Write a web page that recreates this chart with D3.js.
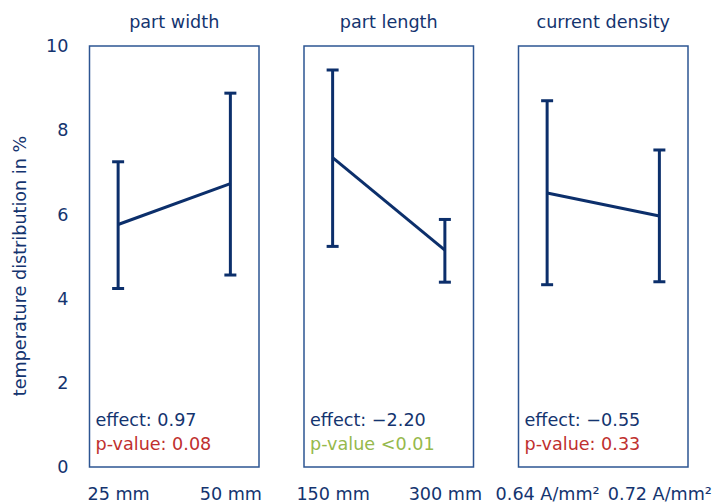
<!DOCTYPE html>
<html>
<head>
<meta charset="utf-8">
<script src="https://cdn.jsdelivr.net/npm/d3@7"></script>
<style>
  html, body { margin: 0; padding: 0; background: #fff; }
  svg { display: block; font-family: "DejaVu Sans", sans-serif; }
</style>
</head>
<body>
<svg id="chart" width="713" height="503"></svg>
<script>
// Factor main effects: mean temperature distribution with error ranges
const factors = ["part width", "part length", "current density"];
const levels = [["25 mm", "50 mm"], ["150 mm", "300 mm"], ["0.64 A/mm²", "0.72 A/mm²"]];
const means = [[5.76, 6.73], [7.35, 5.15], [6.51, 5.96]];
const upper = [[7.25, 8.88], [9.43, 5.88], [8.70, 7.53]];
const lower = [[4.24, 4.56], [5.24, 4.39], [4.33, 4.40]];
const effects = ["0.97", "\u22122.20", "\u22120.55"];
const pLabels = ["p-value: 0.08", "p-value <0.01", "p-value: 0.33"];
const significant = [false, true, false];
const yTicks = [0, 2, 4, 6, 8, 10];

const navy = "#0c2f6b";
const frameColor = "#2d5592";
const textColor = "#14346f";
const red = "#c0302e";
const green = "#96b94c";
const fontSize = 17.6;

const svg = d3.select("#chart");
const plotTop = 46, plotBottom = 467;
const panelW = 169.5, panelLeft = 89.5, panelGap = 214.5;

const y = d3.scaleLinear().domain([0, 10]).range([plotBottom, plotTop]);
const panelX = d3.scaleLinear().domain([0, 1]).range([panelLeft, panelLeft + panelGap]);

// Shared y axis (labels only)
const yAxis = svg.append("g")
  .attr("transform", `translate(${panelLeft},0)`)
  .call(d3.axisLeft(y).tickValues(yTicks).tickSize(0).tickPadding(21));
yAxis.select(".domain").remove();
yAxis.selectAll("text")
  .attr("fill", textColor)
  .style("font-size", fontSize + "px")
  .style("font-family", "DejaVu Sans");

svg.append("text")
  .attr("transform", "translate(26,266) rotate(-90)")
  .attr("text-anchor", "middle")
  .attr("fill", textColor)
  .style("font-size", fontSize + "px")
  .text("temperature distribution in %");

factors.forEach((name, i) => {
  const x0 = panelX(i);
  const g = svg.append("g").attr("transform", `translate(${x0},0)`);
  const x = d3.scalePoint().domain(levels[i]).range([0, panelW]).padding(0.255);

  // panel frame
  g.append("rect")
    .attr("x", 0).attr("y", plotTop)
    .attr("width", panelW).attr("height", plotBottom - plotTop)
    .attr("fill", "none")
    .attr("stroke", frameColor)
    .attr("stroke-width", 1.5);

  // title
  g.append("text")
    .attr("x", panelW / 2).attr("y", 28)
    .attr("text-anchor", "middle")
    .attr("fill", textColor)
    .style("font-size", fontSize + "px")
    .text(name);

  // level labels
  const xAxis = g.append("g")
    .attr("transform", `translate(0,${plotBottom})`)
    .call(d3.axisBottom(x).tickSize(0).tickPadding(21));
  xAxis.select(".domain").remove();
  xAxis.selectAll("text")
    .attr("fill", textColor)
    .style("font-size", fontSize + "px")
    .style("font-family", "DejaVu Sans");

  const pts = levels[i].map((lv, j) => ({ lv, m: means[i][j], hi: upper[i][j], lo: lower[i][j] }));

  // error bars
  const eb = g.selectAll(".eb").data(pts).enter().append("g");
  eb.append("line")
    .attr("x1", d => x(d.lv)).attr("x2", d => x(d.lv))
    .attr("y1", d => y(d.hi)).attr("y2", d => y(d.lo))
    .attr("stroke", navy).attr("stroke-width", 3);
  ["hi", "lo"].forEach(k => {
    eb.append("line")
      .attr("x1", d => x(d.lv) - 6).attr("x2", d => x(d.lv) + 6)
      .attr("y1", d => y(d[k])).attr("y2", d => y(d[k]))
      .attr("stroke", navy).attr("stroke-width", 3);
  });

  // mean line
  g.append("path")
    .datum(pts)
    .attr("d", d3.line().x(d => x(d.lv)).y(d => y(d.m)))
    .attr("fill", "none")
    .attr("stroke", navy)
    .attr("stroke-width", 3);

  // effect and p-value annotations
  g.append("text")
    .attr("x", 6).attr("y", 426)
    .attr("fill", textColor)
    .style("font-size", fontSize + "px")
    .text("effect: " + effects[i]);
  g.append("text")
    .attr("x", 6).attr("y", 450)
    .attr("fill", significant[i] ? green : red)
    .style("font-size", fontSize + "px")
    .text(pLabels[i]);
});
</script>
</body>
</html>
